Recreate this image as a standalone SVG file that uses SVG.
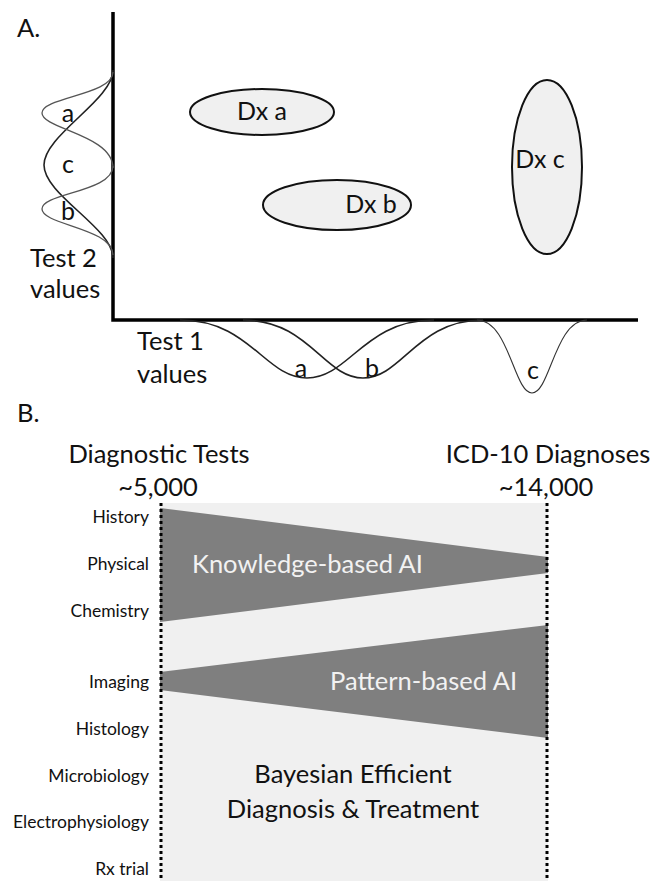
<svg xmlns="http://www.w3.org/2000/svg" width="664" height="881" viewBox="0 0 664 881">
  <style>
    text { font-family: Lato, "Open Sans", "Liberation Sans", sans-serif; fill: #111; }
    .big { font-size: 25.5px; }
    .lbl { font-size: 25px; }
    .mid { text-anchor: middle; }
    .small { font-size: 17.5px; text-anchor: end; }
    .inv { fill: #f2f2f2; font-size: 25.5px; }
    .axis { stroke: #000; stroke-width: 3.5; fill: none; }
    .dist { fill: none; stroke: #222; stroke-width: 1.6; }
    .dist-thin { fill: none; stroke: #333; stroke-width: 1.1; }
    .dist-grey { fill: none; stroke: #555; stroke-width: 1.3; }
    .dx { fill: #f0f0f0; stroke: #111; stroke-width: 2; }
    .wedge { fill: #7f7f7f; }
    .dots { stroke: #000; stroke-width: 3; stroke-dasharray: 3 3; }
  </style>

  <!-- Panel A: two test value axes with diagnosis clusters -->
  <text class="big" x="17" y="37">A.</text>

  <g id="axes">
    <path class="axis" d="M113,12 V320 H638"/>
  </g>

  <g id="test2-distributions">
    <path class="dist" d="M113,70 C113,100 44,135 44,165 C44,195 113,228 113,258"/>
    <path class="dist-grey" d="M113,72 C113,95 42,97 42,113 C42,129 113,135 113,168"/>
    <path class="dist-grey" d="M113,166 C113,192 42,193 42,209 C42,225 113,228 113,255"/>
    <text class="lbl mid" x="68" y="122">a</text>
    <text class="lbl mid" x="68" y="173">c</text>
    <text class="lbl mid" x="68" y="220">b</text>
  </g>
  <g id="test2-label">
    <text class="big" x="30" y="267">Test 2</text>
    <text class="big" x="30" y="298">values</text>
  </g>

  <g id="test1-distributions">
    <path class="dist" d="M180,320 C250,320 265,378 307,378 C349,378 364,320 434,320"/>
    <path class="dist" d="M243,320 C309,320 324,378 363,378 C402,378 417,320 483,320"/>
    <path class="dist-thin" d="M477,320 C509,320 514,393 532,393 C550,393 555,320 587,320"/>
    <text class="lbl mid" x="301" y="377">a</text>
    <text class="lbl mid" x="372" y="377">b</text>
    <text class="lbl mid" x="533" y="379">c</text>
  </g>
  <g id="test1-label">
    <text class="big" x="137" y="350">Test 1</text>
    <text class="big" x="137" y="383">values</text>
  </g>

  <g id="dx-a">
    <ellipse class="dx" cx="262" cy="112" rx="72" ry="23"/>
    <text class="lbl mid" x="262" y="120">Dx a</text>
  </g>
  <g id="dx-b">
    <ellipse class="dx" cx="337" cy="205" rx="74" ry="25"/>
    <text class="lbl mid" x="371" y="213">Dx b</text>
  </g>
  <g id="dx-c">
    <ellipse class="dx" cx="547" cy="167" rx="35" ry="87"/>
    <text class="lbl mid" x="540" y="168">Dx c</text>
  </g>

  <!-- Panel B: diagnostic tests mapped to diagnoses -->
  <text class="big" x="17" y="422">B.</text>
  <g id="headers">
    <text class="big mid" x="159" y="463">Diagnostic Tests</text>
    <text class="big mid" x="158" y="496">~5,000</text>
    <text class="big mid" x="548" y="463">ICD-10 Diagnoses</text>
    <text class="big mid" x="546" y="496">~14,000</text>
  </g>

  <g id="field">
    <rect x="160" y="503" width="388" height="378" fill="#f0f0f0"/>
  </g>

  <g id="knowledge-based-ai">
    <polygon class="wedge" points="160,508 548,557 548,573 160,622"/>
    <text class="inv" x="192" y="573">Knowledge-based AI</text>
  </g>
  <g id="pattern-based-ai">
    <polygon class="wedge" points="160,672 548,625 548,738 160,690"/>
    <text class="inv" x="330" y="690">Pattern-based AI</text>
  </g>

  <g id="bayesian">
    <text class="big mid" x="353" y="783">Bayesian Efficient</text>
    <text class="big mid" x="353" y="818">Diagnosis &amp; Treatment</text>
  </g>

  <g id="connectors">
    <line class="dots" x1="161" y1="503" x2="161" y2="881"/>
    <line class="dots" x1="547" y1="503" x2="547" y2="881"/>
  </g>

  <g id="test-categories">
    <text class="small" x="149" y="523">History</text>
    <text class="small" x="149" y="570">Physical</text>
    <text class="small" x="149" y="617">Chemistry</text>
    <text class="small" x="149" y="688">Imaging</text>
    <text class="small" x="149" y="735">Histology</text>
    <text class="small" x="149" y="782">Microbiology</text>
    <text class="small" x="149" y="828">Electrophysiology</text>
    <text class="small" x="149" y="875">Rx trial</text>
  </g>
</svg>
